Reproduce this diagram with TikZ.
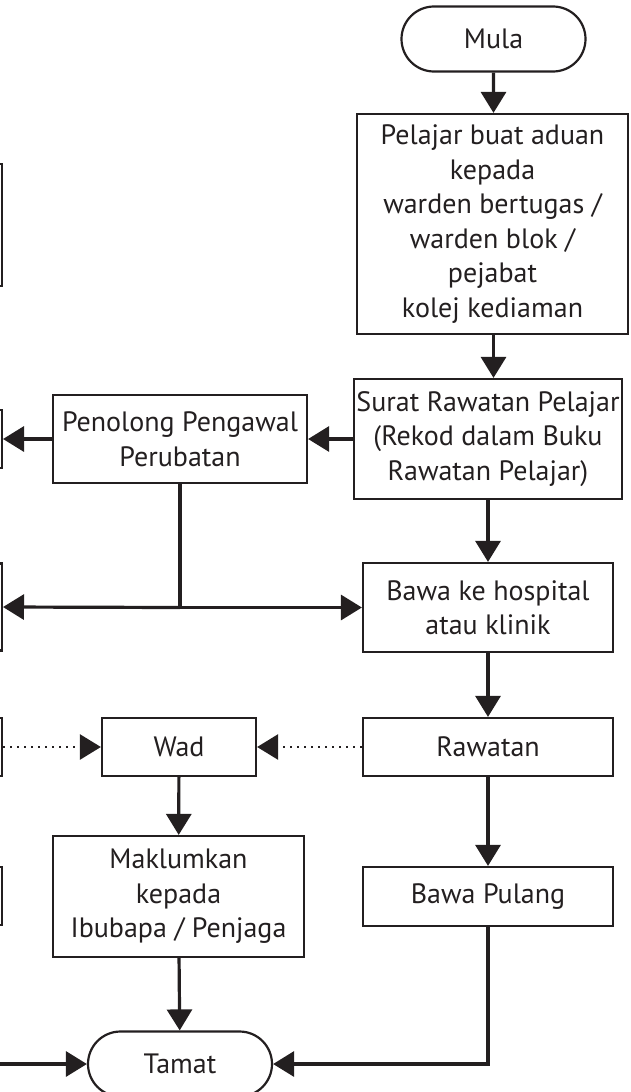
\documentclass[tikz,border=0pt]{standalone}
\usepackage{fontspec}
\setmainfont{PT Sans}
\usetikzlibrary{arrows.meta,positioning,shapes.misc,calc}
\definecolor{inkblack}{RGB}{35,31,32}

\begin{document}
\begin{tikzpicture}[x=1pt,y=-1pt,inkblack,
  term/.style={rounded rectangle,draw,line width=2.2pt,minimum width=184pt,minimum height=65pt,inner sep=0pt},
  box/.style={rectangle,draw,line width=2.2pt,align=center,inner sep=0pt},
  side/.style={rectangle,draw,line width=2.2pt,minimum width=200pt,anchor=east,inner sep=0pt},
  flow/.style={-{Triangle[length=21pt,width=25pt]},line width=3.2pt},
  dots/.style={line width=2.6pt,dash pattern=on 2.4pt off 4.6pt},
  every node/.style={font=\fontsize{28}{34.5}\selectfont}]
  \useasboundingbox (0,0) rectangle (630,1092);
  \clip (0,0) rectangle (630,1092);
  % right column
  \node[term] (mula) at (493.5,39) {Mula};
  \node[box,minimum width=271pt,minimum height=220pt] (aduan) at (492.5,224)
    {Pelajar buat aduan\\kepada\\warden bertugas /\\warden blok /\\pejabat\\kolej kediaman};
  \node[box,minimum width=268pt,minimum height=120pt] (surat) at (488,439)
    {Surat Rawatan Pelajar\\(Rekod dalam Buku\\Rawatan Pelajar)};
  \node[box,minimum width=250pt,minimum height=89pt] (hospital) at (488,607.5)
    {Bawa ke hospital\\atau klinik};
  \node[box,minimum width=250pt,minimum height=58pt] (rawatan) at (488,747) {Rawatan};
  \node[box,minimum width=250pt,minimum height=59pt] (pulang) at (488,896.5) {Bawa Pulang};
  % middle column
  \node[box,minimum width=254pt,minimum height=88pt] (penolong) at (180,439)
    {Penolong Pengawal\\Perubatan};
  \node[box,minimum width=154pt,minimum height=58pt] (wad) at (179,747) {Wad};
  \node[box,minimum width=251pt,minimum height=121pt] (maklum) at (178.5,896.5)
    {Maklumkan\\kepada\\Ibubapa / Penjaga};
  \node[term] (tamat) at (180,1064) {Tamat};
  % boxes cut off at the left edge
  \node[side,minimum height=122pt] (sideA) at (3,225) {};
  \node[side,minimum height=58pt] (sideB) at (3,439) {};
  \node[side,minimum height=87pt] (sideC) at (3,607) {};
  \node[side,minimum height=58pt] (sideD) at (3,747) {};
  \node[side,minimum height=58pt] (sideE) at (3,896) {};
  \coordinate (inE) at (-5,1064);
  % connectors
  \draw[flow] (mula) -- (mula.south |- aduan.north);
  \draw[flow] (mula.south |- aduan.south) -- (mula.south |- surat.north);
  \draw[flow] (surat) -- (penolong);
  \draw[flow] (penolong) -- (sideB);
  \draw[flow] (surat) -- (hospital);
  \draw[line width=3.2pt] (penolong.south) -- (penolong.south |- hospital.west) coordinate (junc);
  \draw[flow] (junc) -- (hospital.west);
  \draw[flow] (junc) -- (sideC.east);
  \draw[flow] (hospital) -- (rawatan);
  \draw[flow,dots] (rawatan) -- (wad);
  \draw[flow,dots] (sideD) -- (wad);
  \draw[flow] (wad) -- (maklum);
  \draw[flow] (rawatan) -- (pulang);
  \draw[flow] (maklum) -- (tamat);
  \draw[flow] (pulang.south) |- (tamat.east);
  \draw[flow] (inE) -- (tamat.west);
\end{tikzpicture}
\end{document}
